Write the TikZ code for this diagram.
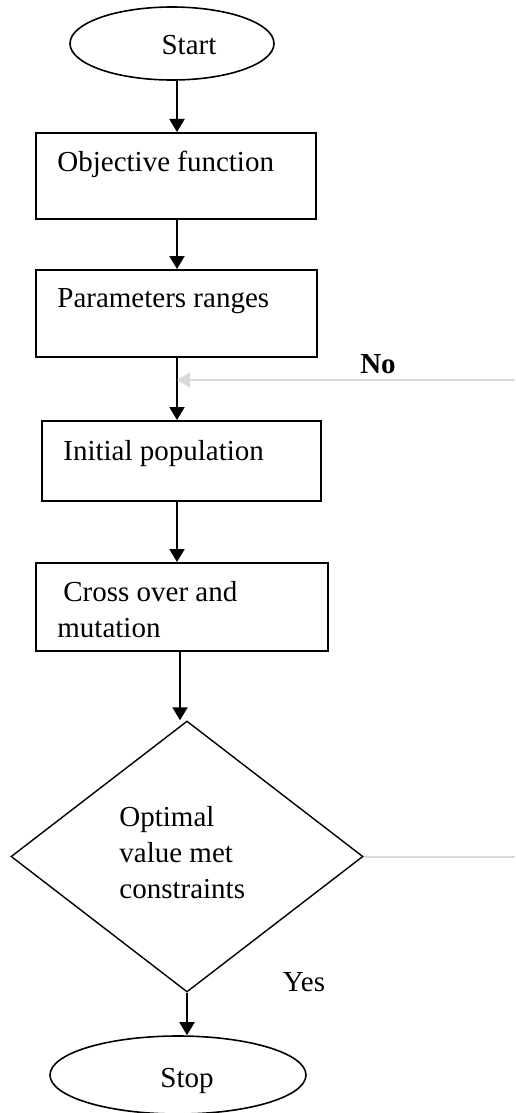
\documentclass[tikz,border=0pt]{standalone}
\usepackage{fontspec}
\setmainfont{Liberation Serif}
\usetikzlibrary{shapes.geometric, arrows.meta}

\begin{document}
\begin{tikzpicture}[x = .5pt, y = -.5pt,
  every node/.style = {font = \fontsize{14.5}{18}\selectfont},
  box/.style = {draw, line width = 1pt, inner sep = 0pt},
  term/.style = {draw, ellipse, line width = .8pt, inner sep = 0pt},
  decision/.style = {draw, diamond, line width = .7pt, inner sep = 0pt},
  txt/.style = {anchor = base west, inner sep = 0pt, align = left},
  flow/.style = {-{Triangle[length = 6.5pt, width = 7.5pt]}, line width = 1pt},
  loopline/.style = {line width = 1pt, black!15},
  back/.style = {loopline, -{Triangle[length = 6.5pt, width = 7.5pt]}}]
\useasboundingbox (0, 0) rectangle (515, 1113);

% shapes
\node (start) at (172, 43.5) [term, minimum width = 102pt, minimum height = 36.5pt] {};
\node (obj) at (176, 176) [box, minimum width = 140pt, minimum height = 43pt] {};
\node (par) at (176.5, 313.5) [box, minimum width = 140.5pt, minimum height = 43.5pt] {};
\node (init) at (181.5, 461) [box, minimum width = 139.5pt, minimum height = 40pt] {};
\node (cross) at (182, 607) [box, minimum width = 146pt, minimum height = 44pt] {};
\node (dec) at (187, 856.5) [decision, minimum width = 176pt, minimum height = 135.5pt] {};
\node (stop) at (178, 1075) [term, minimum width = 128pt, minimum height = 39pt] {};

% texts (multi-line ones sit on their last baseline)
\node (starttxt) at (189, 55) [anchor = base, inner sep = 0pt] {Start};
\node (objtxt) at (57, 171) [txt] {Objective function};
\node (partxt) at (57, 307) [txt] {Parameters ranges};
\node (inittxt) at (63, 460) [txt] {Initial population};
\node (crosstxt) at (57, 637) [txt] {\hspace*{3pt}Cross over and\\mutation};
\node (dectxt) at (119, 898) [txt] {Optimal\\value met\\constraints};
\node (stoptxt) at (187, 1087) [anchor = base, inner sep = 0pt] {Stop};
\node (no) at (378, 364) {\textbf{No}};
\node (yes) at (304, 982) {Yes};

% arrows
\coordinate (spine) at (177, 0);
\coordinate (spineB) at (180, 0);
\coordinate (join) at (177, 380);
\coordinate (edgeA) at (515, 380);
\coordinate (edgeB) at (515, 860);

\draw[flow] (start.south -| spine) -- (obj.north -| spine);
\draw[flow] (obj.south -| spine) -- (par.north -| spine);
\draw[flow] (par.south -| spine) -- (init.north -| spine);
\draw[flow] (init.south -| spine) -- (cross.north -| spine);
\draw[flow] (cross.south -| spineB) -- (dec.north -| spineB);
\draw[flow] (dec.south) -- (dec.south |- stop.north);

\draw[back] (edgeA) -- (join);
\draw[loopline] (dec.east) -- (dec.east -| edgeB);

\end{tikzpicture}
\end{document}
